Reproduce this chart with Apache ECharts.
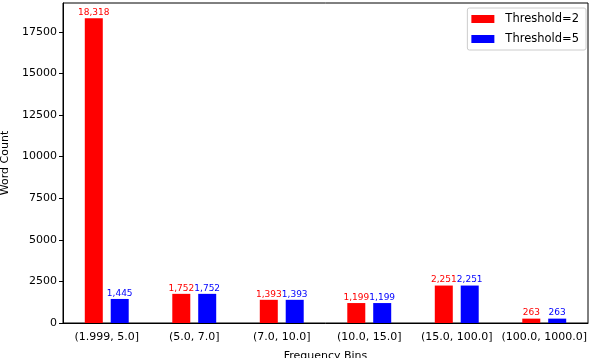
<!DOCTYPE html>
<html><head><meta charset="utf-8">
<script src="https://cdn.jsdelivr.net/npm/echarts@6/dist/echarts.min.js"></script>
<style>html,body{margin:0;padding:0;background:#fff}#c{width:592px;height:358px}</style>
</head><body><div id="c"></div>
<script>
const categories = ['(1.999, 5.0]', '(5.0, 7.0]', '(7.0, 10.0]', '(10.0, 15.0]', '(15.0, 100.0]', '(100.0, 1000.0]'];
const threshold2 = [18318, 1752, 1393, 1199, 2251, 263];
const threshold5 = [1445, 1752, 1393, 1199, 2251, 263];
const seriesNames = ['Threshold=2', 'Threshold=5'];

const font = 'DejaVu Sans';
const chart = echarts.init(document.getElementById('c'), null, {renderer: 'canvas'});
const fmt = v => v.toLocaleString('en-US');
chart.setOption({
  animation: false,
  textStyle: {fontFamily: font},
  grid: {left: 63, right: 4, top: 3, bottom: 35, containLabel: false, outerBoundsMode: 'none',
         show: true, borderColor: '#000', borderWidth: 1, backgroundColor: 'transparent'},
  legend: {
    right: 6, top: 8, orient: 'vertical', itemWidth: 23, itemHeight: 8, itemGap: 8,
    padding: [5, 7, 5, 4], borderColor: '#ccc', borderWidth: 1, borderRadius: 2,
    icon: 'rect', textStyle: {fontFamily: font, fontSize: 11.5, color: '#000', padding: [0, 0, 0, 6]},
    data: seriesNames
  },
  xAxis: {
    type: 'category', data: categories,
    name: 'Frequency Bins', nameLocation: 'middle', nameGap: 28,
    nameTextStyle: {fontFamily: font, fontSize: 11, color: '#000'},
    axisLine: {lineStyle: {color: '#000', width: 1}},
    axisTick: {alignWithLabel: true, length: 4, lineStyle: {color: '#000'}},
    axisLabel: {fontFamily: font, fontSize: 11, color: '#000', margin: 9, interval: 0}
  },
  yAxis: {
    type: 'value', min: 0, max: 19234, interval: 2500,
    name: 'Word Count', nameLocation: 'middle', nameGap: 50,
    nameTextStyle: {fontFamily: font, fontSize: 11, color: '#000'},
    axisLine: {show: true, lineStyle: {color: '#000', width: 1}},
    axisTick: {show: true, length: 4, lineStyle: {color: '#000'}},
    axisLabel: {fontFamily: font, fontSize: 11, color: '#000', margin: 6, showMaxLabel: false, formatter: v => String(v)},
    splitLine: {show: false}
  },
  series: [
    {name: seriesNames[0], type: 'bar', data: threshold2, barWidth: 18, barGap: '44%',
     itemStyle: {color: '#ff0000'},
     label: {show: true, position: 'top', distance: 1, color: '#ff0000', fontFamily: font, fontSize: 9, formatter: p => fmt(p.value)}},
    {name: seriesNames[1], type: 'bar', data: threshold5, barWidth: 18, barGap: '44%',
     itemStyle: {color: '#0000ff'},
     label: {show: true, position: 'top', distance: 1, color: '#0000ff', fontFamily: font, fontSize: 9, formatter: p => fmt(p.value)}}
  ]
});
</script></body></html>
